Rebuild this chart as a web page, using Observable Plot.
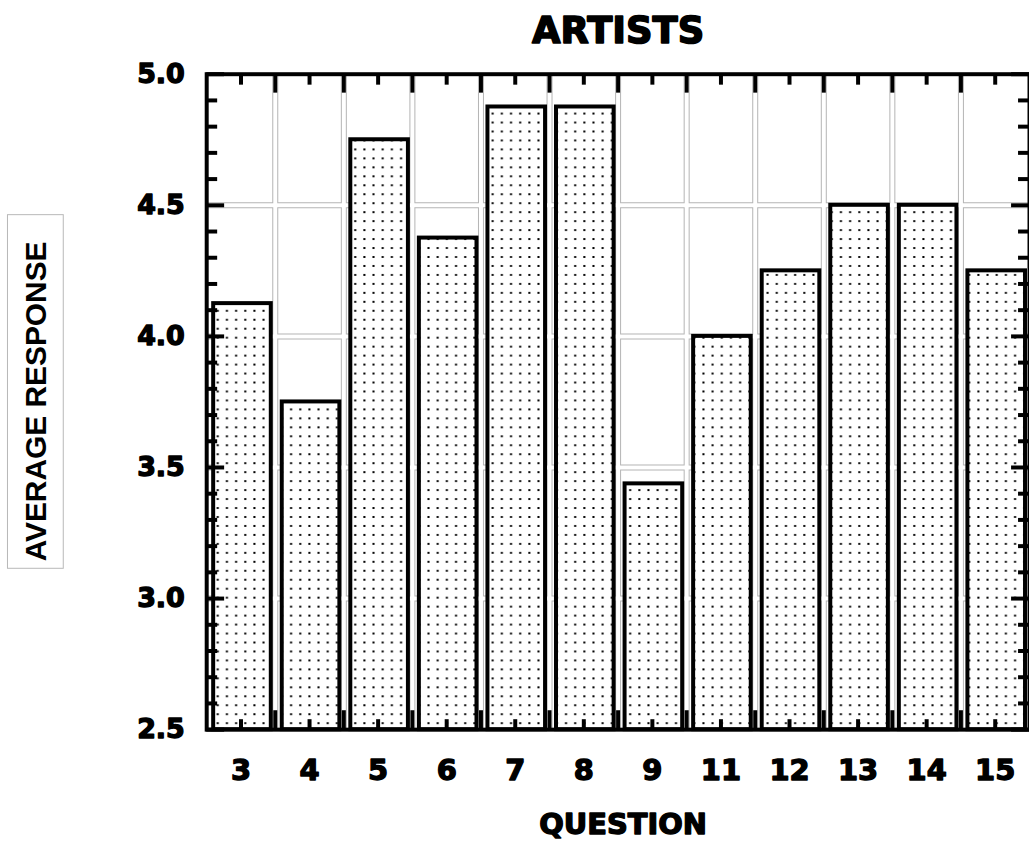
<!DOCTYPE html>
<html><head><meta charset="utf-8">
<script src="https://cdn.jsdelivr.net/npm/d3@7"></script>
<script src="https://cdn.jsdelivr.net/npm/@observablehq/plot@0.6"></script>
<style>
html,body{margin:0;padding:0;background:#fff;overflow:hidden;width:1029px;height:846px}
#chart{position:relative;width:1029px;height:846px;overflow:hidden}
</style>
</head><body><div id="chart"></div>
<script>
// ---- data ----
const questions = ["3", "4", "5", "6", "7", "8", "9", "11", "12", "13", "14", "15"];
const responses = [4.125, 3.75, 4.75, 4.375, 4.875, 4.875, 3.4375, 4.0, 4.25, 4.5, 4.5, 4.25];
const yMajorTicks = [2.5, 3.0, 3.5, 4.0, 4.5, 5.0];
const yMinorTicks = [2.6, 2.7, 2.8, 2.9, 3.1, 3.2, 3.3, 3.4, 3.6, 3.7, 3.8, 3.9, 4.1, 4.2, 4.3, 4.4, 4.6, 4.7, 4.8, 4.9];
const yGridValues = [3.0, 3.5, 4.0, 4.5];
const chartTitle = "ARTISTS";
const xTitle = "QUESTION";
const yTitle = "AVERAGE RESPONSE";

// ---- derived tables ----
const rows = questions.map((q, i) => ({i, q, v: responses[i]}));
const centers = questions.map((q, i) => i + 0.5);
const bounds = questions.slice(1).map((q, i) => i + 1);

const W = 1033, H = 846, mL = 207, mR = 0, mT = 74, mB = 114;
const fw = W - mL - mR, fh = H - mT - mB;
const heavy = "DejaVu Sans";
const tickStyle = {stroke: "black", strokeWidth: 4};

const plot = Plot.plot({
  width: W, height: H,
  marginLeft: mL, marginRight: mR, marginTop: mT, marginBottom: mB,
  x: {domain: [0, questions.length], axis: null},
  y: {domain: [yMajorTicks[0], yMajorTicks[yMajorTicks.length - 1]], axis: null},
  style: {background: "white", fontFamily: heavy, overflow: "visible"},
  marks: [
    // double gray grid lines
    Plot.ruleX(bounds, {x: d => d, stroke: "#b4b4b4", strokeWidth: 6}),
    Plot.ruleY(yGridValues, {y: d => d, stroke: "#b4b4b4", strokeWidth: 6}),
    Plot.ruleX(bounds, {x: d => d, stroke: "white", strokeWidth: 4}),
    Plot.ruleY(yGridValues, {y: d => d, stroke: "white", strokeWidth: 4}),
    // bars
    Plot.rectY(rows, {x1: "i", x2: d => d.i + 1, y1: () => yMajorTicks[0], y2: "v",
      fill: "url(#dots)", stroke: "black", strokeWidth: 4, insetLeft: 7, insetRight: 4}),
    // y ticks left & right (inward)
    Plot.tickY(yMinorTicks, {y: d => d, insetRight: fw - 11, ...tickStyle}),
    Plot.tickY(yMajorTicks, {y: d => d, insetRight: fw - 18, ...tickStyle}),
    Plot.tickY(yMinorTicks, {y: d => d, insetLeft: fw - 11, ...tickStyle}),
    Plot.tickY(yMajorTicks, {y: d => d, insetLeft: fw - 18, ...tickStyle}),
    // x ticks top & bottom (inward)
    Plot.tickX(centers, {x: d => d, insetBottom: fh - 11, ...tickStyle}),
    Plot.tickX(bounds, {x: d => d, insetBottom: fh - 19, ...tickStyle}),
    Plot.tickX(centers, {x: d => d, insetTop: fh - 10, ...tickStyle}),
    Plot.tickX(bounds, {x: d => d, insetTop: fh - 19, ...tickStyle}),
    Plot.frame({stroke: "black", strokeWidth: 4}),
    // tick labels
    Plot.text(yMajorTicks, {y: d => d, frameAnchor: "left", dx: -22, textAnchor: "end", lineAnchor: "middle",
      text: d3.format(".1f"), fontSize: 27, fontWeight: "bold", fill: "black", stroke: "black", strokeWidth: 1.4}),
    Plot.text(rows, {x: d => d.i + 0.5, frameAnchor: "bottom", lineAnchor: "middle", dy: 41, text: "q",
      fontSize: 29, fontWeight: "bold", fill: "black", stroke: "black", strokeWidth: 1.4}),
    // titles
    Plot.text([chartTitle], {frameAnchor: "top", lineAnchor: "middle", dy: -43, text: d => d,
      fontSize: 37, fontWeight: "bold", fill: "black", stroke: "black", strokeWidth: 1.6}),
    Plot.text([xTitle], {frameAnchor: "bottom", lineAnchor: "middle", dy: 95, dx: 5, text: d => d,
      fontSize: 29, fontWeight: "bold", fill: "black", stroke: "black", strokeWidth: 1.4})
  ]
});

// dotted fill pattern
const svg = d3.select(plot);
const defs = svg.insert("defs", ":first-child");
const pat = defs.append("pattern").attr("id", "dots").attr("patternUnits", "userSpaceOnUse")
  .attr("width", 9.2).attr("height", 9).attr("x", 2).attr("y", 1);
pat.append("rect").attr("width", 9.2).attr("height", 9).attr("fill", "white");
pat.append("rect").attr("x", 4).attr("y", 4).attr("width", 2).attr("height", 2).attr("fill", "black");

// y-axis title in a box
const g = svg.append("g");
g.append("rect").attr("x", 7.5).attr("y", 215.5).attr("width", 56).attr("height", 355)
  .attr("fill", "none").attr("stroke", "#b8b8b8").attr("stroke-width", 1);
g.append("text").attr("transform", "translate(36,403) rotate(-90)")
  .attr("text-anchor", "middle").attr("dominant-baseline", "central")
  .attr("font-family", "Liberation Sans, Arial, sans-serif").attr("font-weight", "bold")
  .attr("font-size", 30).attr("fill", "black").text(yTitle);

document.getElementById("chart").appendChild(plot);
</script>
</body></html>
